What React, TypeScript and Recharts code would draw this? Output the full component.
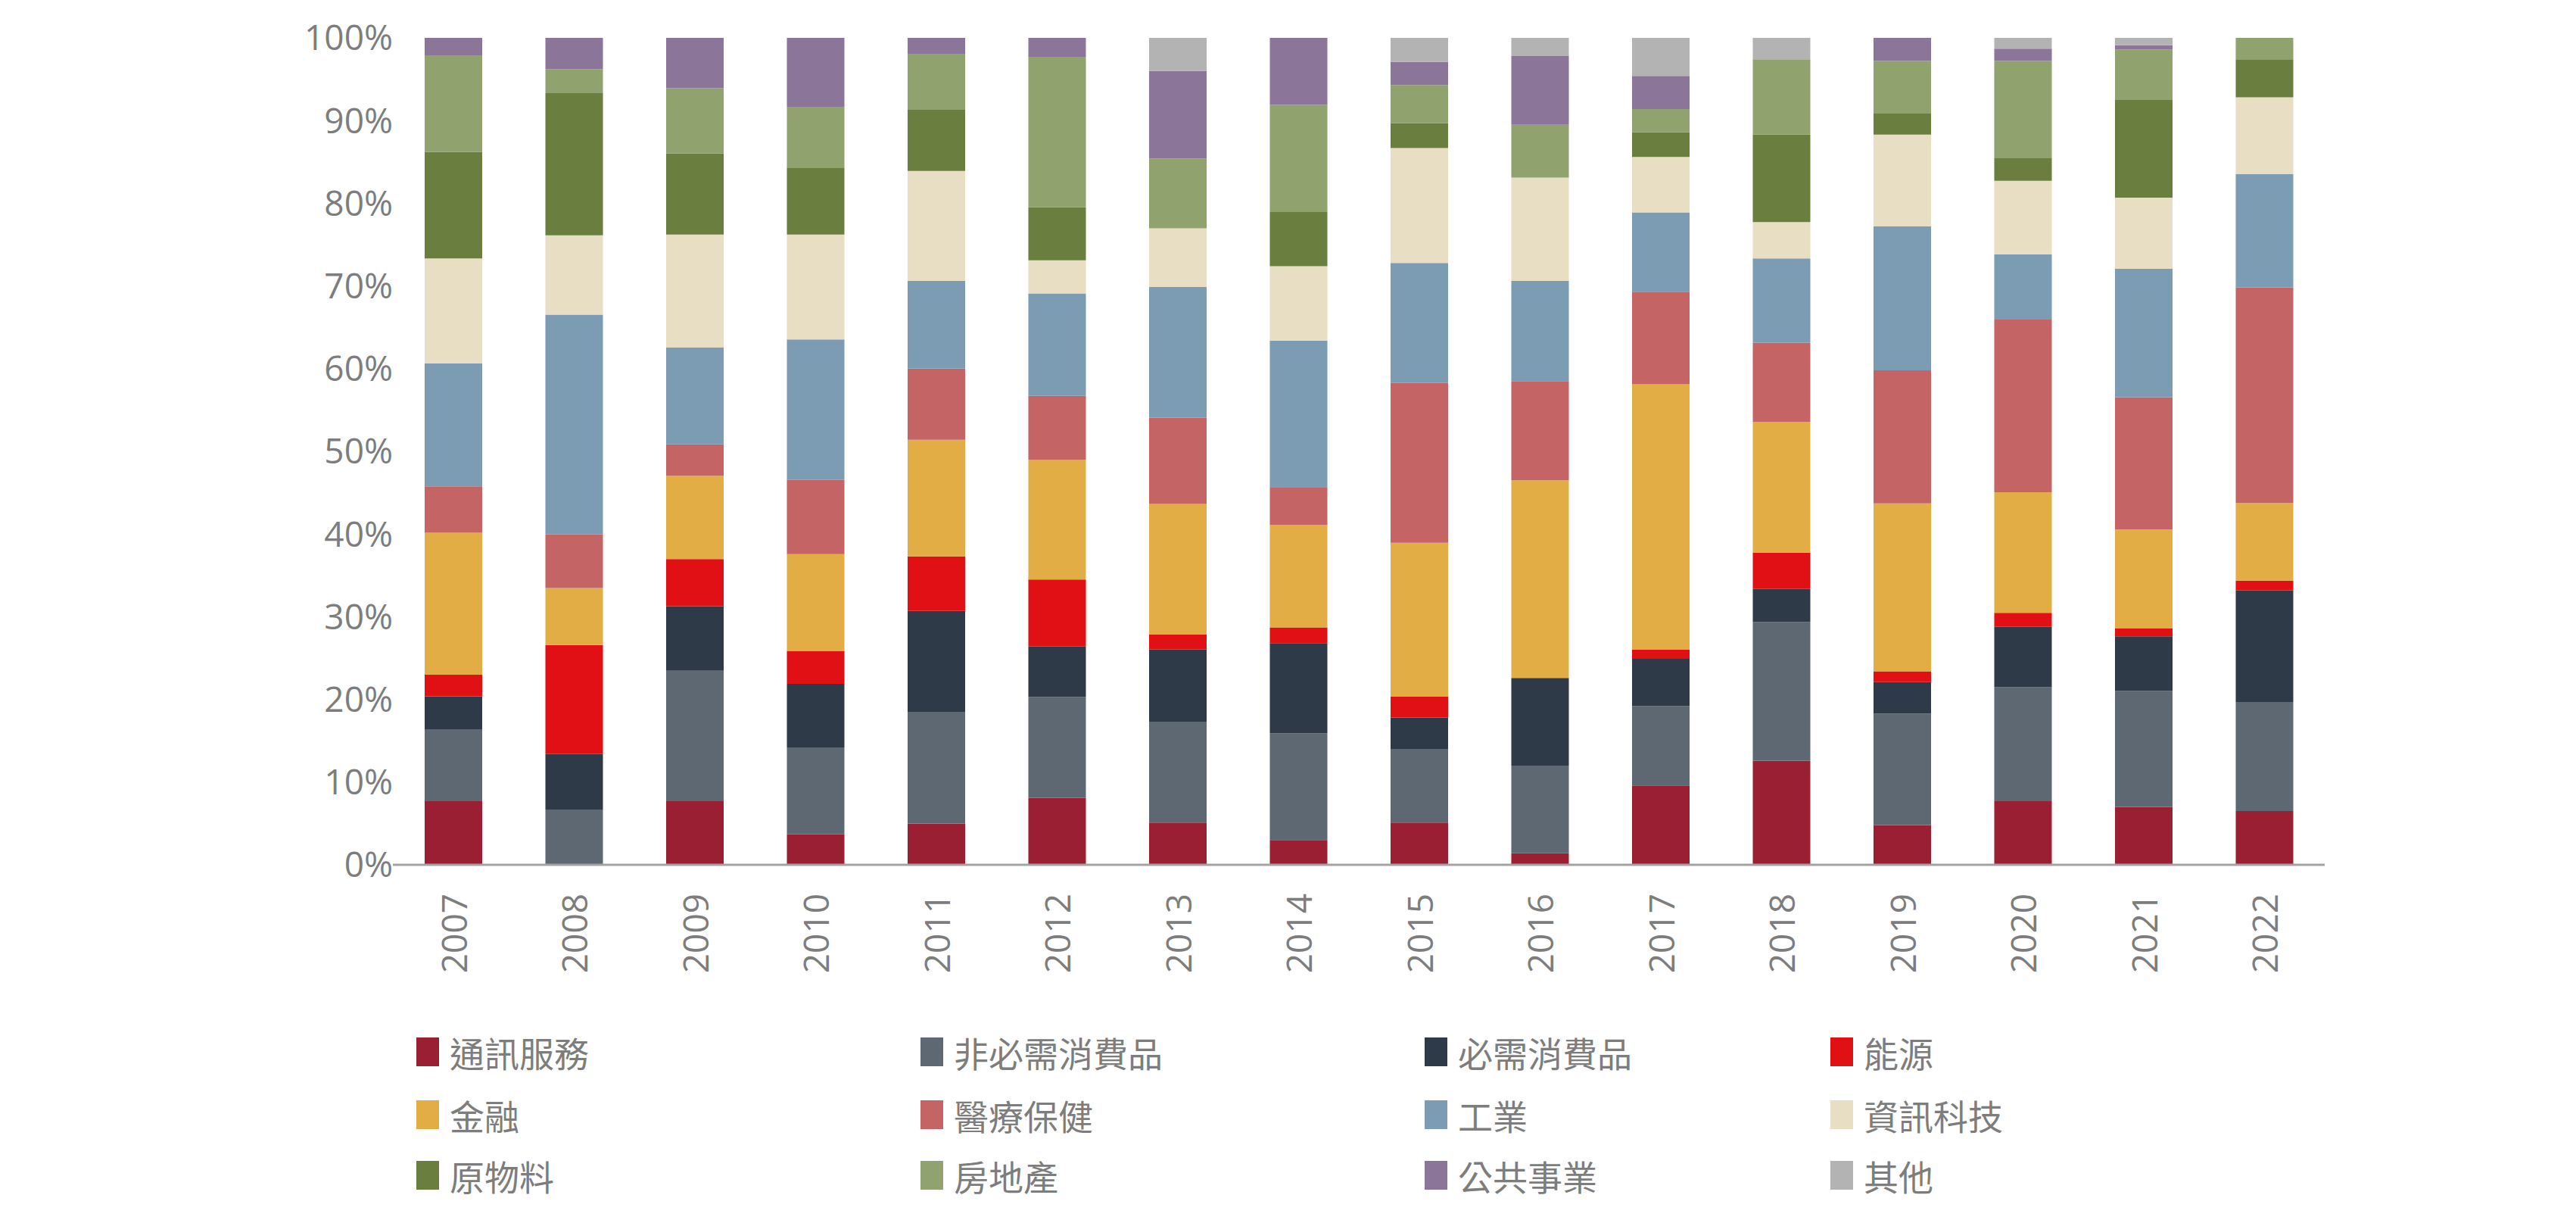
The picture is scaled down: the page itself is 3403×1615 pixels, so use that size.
import { BarChart, Bar, XAxis, YAxis } from 'recharts'

const years = ['2007', '2008', '2009', '2010', '2011', '2012', '2013', '2014', '2015', '2016', '2017', '2018', '2019', '2020', '2021', '2022']

// sector weights (%) per year, bottom of stack first
const commServices = [7.7, 0, 7.7, 3.7, 5.0, 8.1, 5.1, 3.0, 5.1, 1.4, 9.6, 12.6, 4.8, 7.7, 7.0, 6.5]
const consumerDisc = [8.7, 6.7, 15.8, 10.5, 13.5, 12.2, 12.2, 12.9, 8.9, 10.6, 9.6, 16.8, 13.5, 13.8, 14.0, 13.2]
const consumerStaples = [4.0, 6.7, 7.8, 7.7, 12.2, 6.1, 8.7, 10.9, 3.8, 10.6, 5.7, 4.0, 3.8, 7.3, 6.6, 13.5]
const energy = [2.6, 13.2, 5.7, 4.0, 6.6, 8.1, 1.8, 1.9, 2.5, 0, 1.1, 4.4, 1.3, 1.7, 1.0, 1.2]
const financials = [17.2, 6.9, 10.1, 11.7, 14.1, 14.5, 15.8, 12.4, 18.6, 23.9, 32.1, 15.8, 20.3, 14.6, 11.9, 9.4]
const healthcare = [5.6, 6.5, 3.8, 9.0, 8.6, 7.7, 10.4, 4.5, 19.3, 12.0, 11.2, 9.6, 16.1, 20.9, 16.0, 26.1]
const industrials = [14.9, 26.6, 11.7, 17.0, 10.6, 12.4, 15.8, 17.8, 14.5, 12.1, 9.6, 10.2, 17.4, 7.9, 15.5, 13.7]
const infoTech = [12.7, 9.6, 13.7, 12.7, 13.3, 4.0, 7.1, 9.0, 13.9, 12.5, 6.7, 4.4, 11.1, 8.9, 8.6, 9.3]
const materials = [12.9, 17.2, 9.8, 8.1, 7.4, 6.4, 0, 6.6, 3.0, 0, 3.0, 10.6, 2.6, 2.8, 11.8, 4.6]
const realEstate = [11.7, 2.9, 7.9, 7.3, 6.7, 18.2, 8.4, 12.9, 4.6, 6.4, 2.8, 9.1, 6.3, 11.7, 6.1, 2.6]
const utilities = [2.1, 3.8, 6.1, 8.4, 2.0, 2.3, 10.6, 8.1, 2.8, 8.3, 4.0, 0, 2.8, 1.5, 0.5, 0]
const others = [0, 0, 0, 0, 0, 0, 4.0, 0, 2.9, 2.2, 4.6, 2.6, 0, 1.3, 0.9, 0]

const yTicks = [0, 0.1, 0.2, 0.3, 0.4, 0.5, 0.6, 0.7, 0.8, 0.9, 1]

const series = [
  { key: 'comm', name: '通訊服務', color: '#9b1f33', values: commServices },
  { key: 'disc', name: '非必需消費品', color: '#5d6872', values: consumerDisc },
  { key: 'staples', name: '必需消費品', color: '#2e3a47', values: consumerStaples },
  { key: 'energy', name: '能源', color: '#e01015', values: energy },
  { key: 'fin', name: '金融', color: '#e2ad45', values: financials },
  { key: 'health', name: '醫療保健', color: '#c46464', values: healthcare },
  { key: 'ind', name: '工業', color: '#7b9cb3', values: industrials },
  { key: 'it', name: '資訊科技', color: '#e8dec3', values: infoTech },
  { key: 'mat', name: '原物料', color: '#6a7f3f', values: materials },
  { key: 're', name: '房地產', color: '#90a26e', values: realEstate },
  { key: 'util', name: '公共事業', color: '#8b7699', values: utilities },
  { key: 'other', name: '其他', color: '#b3b3b3', values: others },
]

const data = years.map((year, i) => {
  const row: Record<string, number | string> = { year }
  series.forEach(s => { row[s.key] = s.values[i] })
  return row
})

const labelColor = '#7d7d7d'
const axisFont = '"Open Sans", "Noto Sans", sans-serif'
const cjkFont = '"Noto Sans CJK TC", "Noto Sans CJK SC", sans-serif'

// eslint-disable-next-line @typescript-eslint/no-explicit-any
function YearTick({ x, y, payload }: any) {
  const ty = y + 30
  return (
    <text
      x={x}
      y={ty}
      transform={`rotate(-90 ${x} ${ty})`}
      textAnchor="end"
      dominantBaseline="central"
      fill={labelColor}
      fontSize={46}
      fontFamily={axisFont}
    >
      {payload.value}
    </text>
  )
}

const legendCols = [550, 1216, 1882, 2418]
const legendRows = [1389, 1472, 1552]

export default function App() {
  return (
    <div style={{ position: 'absolute', left: 0, top: 0, width: 3403, height: 1615, background: '#fff' }}>
      <BarChart
        width={3403}
        height={1615}
        data={data}
        stackOffset="expand"
        margin={{ top: 50, right: 332, bottom: 273, left: 0 }}
      >
        <XAxis
          dataKey="year"
          height={200}
          tickLine={false}
          axisLine={{ stroke: '#a3a3a3', strokeWidth: 3 }}
          tick={<YearTick />}
          interval={0}
        />
        <YAxis
          width={519}
          ticks={yTicks}
          domain={[0, 1]}
          axisLine={false}
          tickLine={false}
          tickSize={0}
          tickMargin={0}
          tick={{ fill: labelColor, fontSize: 46, fontFamily: axisFont }}
          tickFormatter={v => `${Math.round(v * 100)}%`}
        />
        {series.map(s => (
          <Bar
            key={s.key}
            dataKey={s.key}
            name={s.name}
            stackId="a"
            fill={s.color}
            barSize={76}
            isAnimationActive={false}
          />
        ))}
      </BarChart>
      {series.map((s, i) => (
        <div
          key={s.key}
          style={{
            position: 'absolute',
            left: legendCols[i % 4],
            top: legendRows[Math.floor(i / 4)] - 30,
            height: 60,
            display: 'flex',
            alignItems: 'center',
            fontFamily: cjkFont,
            fontSize: 46,
            color: labelColor,
            whiteSpace: 'nowrap',
          }}
        >
          <span style={{ display: 'inline-block', width: 30, height: 38, background: s.color, marginRight: 14 }} />
          {s.name}
        </div>
      ))}
    </div>
  )
}
